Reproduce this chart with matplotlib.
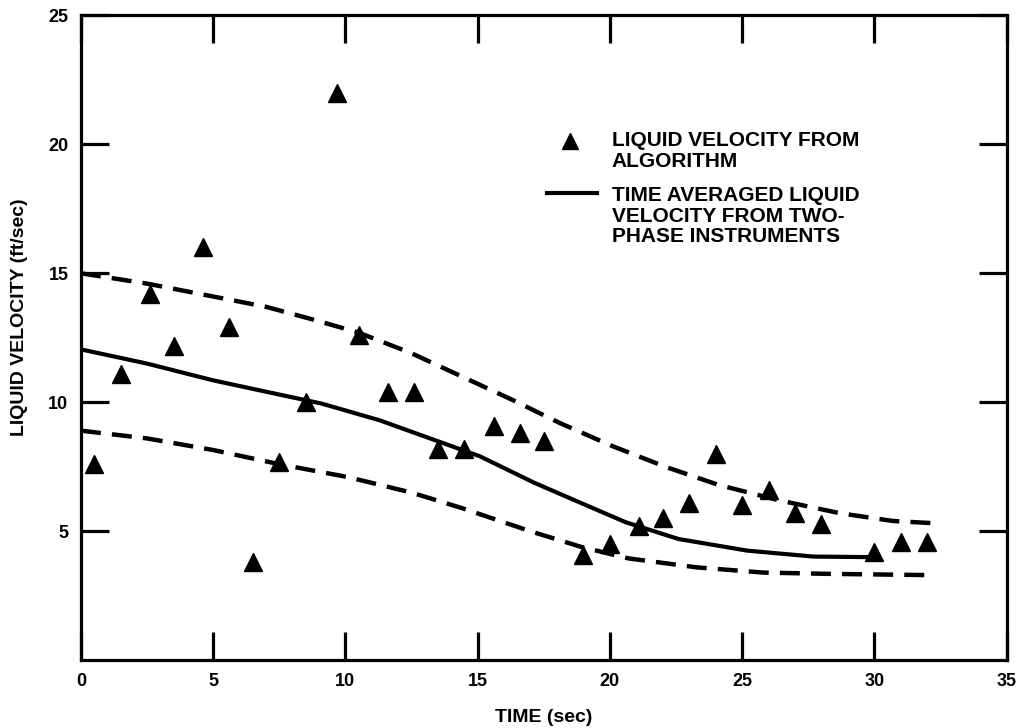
import numpy as np
import matplotlib
matplotlib.use('Agg')
import matplotlib.pyplot as plt

plt.rcParams['font.family'] = ['Liberation Sans', 'DejaVu Sans']
plt.rcParams['font.weight'] = 'bold'

# triangles: liquid velocity from algorithm
alg_t = [0.5, 1.5, 2.6, 3.5, 4.6, 5.6, 6.5, 7.5, 8.5, 9.7, 10.5, 11.6, 12.6,
         13.5, 14.5, 15.6, 16.6, 17.5, 19.0, 20.0, 21.1, 22.0, 23.0, 24.0,
         25.0, 26.0, 27.0, 28.0, 30.0, 31.0, 32.0]
alg_v = [7.6, 11.1, 14.2, 12.2, 16.0, 12.9, 3.8, 7.7, 10.0, 22.0, 12.6, 10.4, 10.4,
         8.2, 8.2, 9.1, 8.8, 8.5, 4.1, 4.5, 5.2, 5.5, 6.1, 8.0,
         6.0, 6.6, 5.7, 5.3, 4.2, 4.6, 4.6]

# time averaged liquid velocity (two-phase instruments)
avg_t = [0, 2.5, 5.0, 7.5, 9.1, 11.3, 13.2, 15.1, 17.1, 18.9, 20.6, 22.6, 25.2, 27.7, 29.7]
avg_v = [12.05, 11.5, 10.85, 10.3, 9.95, 9.3, 8.6, 7.9, 6.9, 6.1, 5.35, 4.7, 4.25, 4.02, 4.0]

# upper / lower bands (dashed)
up_t = [0, 2.5, 5.0, 7.0, 8.8, 10.5, 12.5, 14.4, 16.3, 18.1, 20.1, 22.1, 24.1, 26.4, 28.7, 30.7, 32.5]
up_v = [15.0, 14.6, 14.1, 13.7, 13.2, 12.7, 11.9, 11.0, 10.1, 9.2, 8.3, 7.5, 6.8, 6.2, 5.7, 5.4, 5.3]
lo_t = [0, 2.5, 5.0, 7.5, 10.1, 12.5, 14.4, 17.0, 18.9, 20.7, 23.3, 25.8, 28.3, 32.2]
lo_v = [8.9, 8.6, 8.15, 7.6, 7.1, 6.5, 5.9, 5.0, 4.4, 3.95, 3.6, 3.4, 3.35, 3.3]

x_ticks = [0, 5, 10, 15, 20, 25, 30, 35]
y_ticks = [5, 10, 15, 20, 25]

fig = plt.figure(figsize=(10.25, 7.28), dpi=100)
ax = fig.add_axes([0.079, 0.093, 0.903, 0.886])

ax.plot(up_t, up_v, color='black', lw=3.2, dashes=(4.5, 2.5))
ax.plot(lo_t, lo_v, color='black', lw=3.2, dashes=(4.5, 2.5))
ax.plot(avg_t, avg_v, color='black', lw=3.0)
ax.plot(alg_t, alg_v, '^', color='black', ms=12.5, ls='none')

ax.set_xlim(0, 35)
ax.set_ylim(0, 25)
ax.set_xticks(x_ticks)
ax.set_yticks(y_ticks)
ax.tick_params(direction='in', length=20, width=2.3, labelsize=13,
               top=True, right=True, pad=9)
for s in ax.spines.values():
    s.set_linewidth(2.3)

ax.set_xlabel('TIME (sec)', fontsize=14, fontweight='bold', labelpad=14)
ax.set_ylabel('LIQUID VELOCITY (ft/sec)', fontsize=14, fontweight='bold')
ax.yaxis.set_label_coords(-0.057, 0.532)

# legend drawn by hand to keep the symbol on the first text line
tr = ax.transAxes
ax.plot([0.528], [0.805], '^', color='black', ms=12, transform=tr, clip_on=False)
ax.text(0.5734, 0.820, 'LIQUID VELOCITY FROM\nALGORITHM', transform=tr,
        fontsize=15, fontweight='bold', va='top', ha='left', linespacing=1.1)
ax.plot([0.504, 0.558], [0.724, 0.724], color='black', lw=3.0, transform=tr)
ax.text(0.5734, 0.735, 'TIME AVERAGED LIQUID\nVELOCITY FROM TWO-\nPHASE INSTRUMENTS',
        transform=tr, fontsize=15, fontweight='bold', va='top', ha='left',
        linespacing=1.1)

fig.savefig('out.png', dpi=100)
